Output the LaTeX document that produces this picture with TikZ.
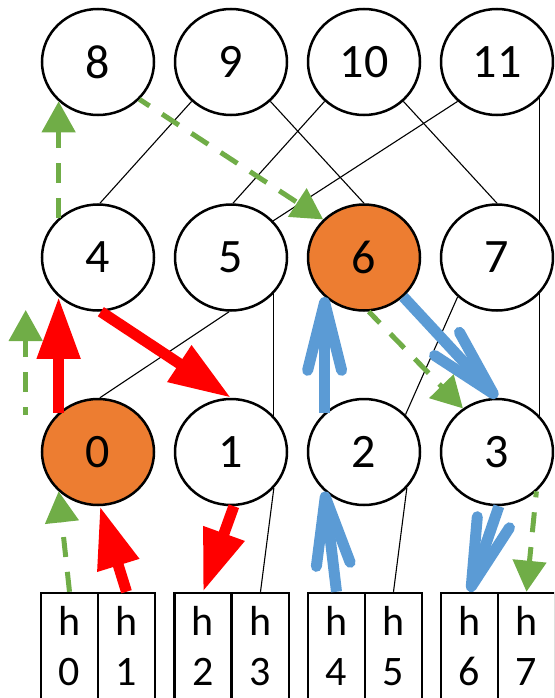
\documentclass[tikz,border=0pt]{standalone}
\usepackage{fontspec}
\setmainfont{Carlito}
\usetikzlibrary{shapes.geometric,arrows.meta}
\definecolor{orng}{HTML}{ED7D31}
\definecolor{redc}{HTML}{FF0000}
\definecolor{bluec}{HTML}{5B9BD5}
\definecolor{greenc}{HTML}{70AD47}
\newcommand{\lowpad}{\rule[-20pt]{0pt}{0pt}}
\begin{document}
\begin{tikzpicture}[x=1pt,y=-1pt,
 circ/.style={ellipse, draw=black, fill=white, line width=2.5pt, minimum width=112pt, minimum height=106pt, inner sep=0pt, font=\fontsize{48}{58}\selectfont},
 hot/.style={circ, fill=orng},
 hbox/.style={rectangle, draw=black, fill=white, line width=2.5pt, minimum width=57pt, minimum height=125pt, inner sep=0pt, align=center, font=\fontsize{42}{50}\selectfont},
 thinline/.style={draw=black, line width=1.1pt},
 redarr/.style={draw=redc, line width=11pt, -{Triangle[length=62pt,width=41pt]}},
 bluearr/.style={draw=bluec, line width=11pt, -{Straight Barb[length=68pt,width=34pt,round]}},
 greenarr/.style={draw=greenc, line width=5pt, dash pattern=on 20pt off 15pt, -{Triangle[length=31pt,width=33pt]}}
]
\useasboundingbox (0,0) rectangle (554,698);
\clip (0,0) rectangle (554,698);
% top row
\node[circ] (n8) at (98,62) {8};
\node[circ] (n9) at (231,62) {9};
\node[circ] (n10) at (364,62) {10};
\node[circ] (n11) at (497,62) {11};
% middle row
\node[circ] (n4) at (98,257.5) {4};
\node[circ] (n5) at (231,257.5) {5};
\node[hot] (n6) at (364,257.5) {6};
\node[circ] (n7) at (497,257.5) {7};
% bottom row
\node[hot] (n0) at (98,452) {0};
\node[circ] (n1) at (231,452) {1};
\node[circ] (n2) at (364,452) {2};
\node[circ] (n3) at (497,452) {3};
% boxes
\node[hbox] (h0) at (69.5,655.5) {h\\0\lowpad};
\node[hbox] (h1) at (126.5,655.5) {h\\1\lowpad};
\node[hbox] (h2) at (203,655.5) {h\\2\lowpad};
\node[hbox] (h3) at (260.5,655.5) {h\\3\lowpad};
\node[hbox] (h4) at (336.5,655.5) {h\\4\lowpad};
\node[hbox] (h5) at (393.5,655.5) {h\\5\lowpad};
\node[hbox] (h6) at (469.5,655.5) {h\\6\lowpad};
\node[hbox] (h7) at (526.5,655.5) {h\\7\lowpad};
\coordinate (g0) at (25.7,415);
\coordinate (g1) at (25.7,310);
% thin lines
\draw[thinline] (n9.225) -- (n4.88);
\draw[thinline] (n9.-45) -- (n6.north);
\draw[thinline] (n10.225) -- (n5.88);
\draw[thinline] (n10.-45) -- (n7.north);
\draw[thinline] (n11.225) -- (n5.41);
\draw[thinline] (n11.-40) -- (n7.40);
\draw[thinline] (n5.-92) -- (n0.88);
\draw[thinline] (n5.-40) -- (n1.40);
\draw[thinline] (n7.225) -- (n2.42);
\draw[thinline] (n7.-40) -- (n3.40);
\draw[thinline] (h3.north) -- (n1.-40);
\draw[thinline] (h5.north) -- (n2.-40);
% red
\draw[redarr] (n0.135) -- (n4.225);
\draw[redarr] (n4.-87) -- (n1.north);
\draw[redarr] (h1.north) -- (n0.-88);
\draw[redarr] (n1.-87) -- (h2.north);
% blue
\draw[bluearr] (h4.north) -- (n2.225);
\draw[bluearr] (n2.135) -- (n6.225);
\draw[bluearr] (n6.-45) -- (n3.north);
\draw[bluearr] (n3.-88) -- (h6.north);
% green
\draw[greenarr] (n4.135) -- (n8.225);
\draw[greenarr, dash phase=8pt] (n8.-42) -- (n6.137);
\draw[greenarr, dash phase=12pt] (g0) -- (g1);
\draw[greenarr, dash phase=4pt] (n6.-85) -- (n3.128);
\draw[greenarr] (h0.north) -- (n0.225);
\draw[greenarr, dash phase=14pt] (n3.-45) -- (h7.north);
\end{tikzpicture}
\end{document}
